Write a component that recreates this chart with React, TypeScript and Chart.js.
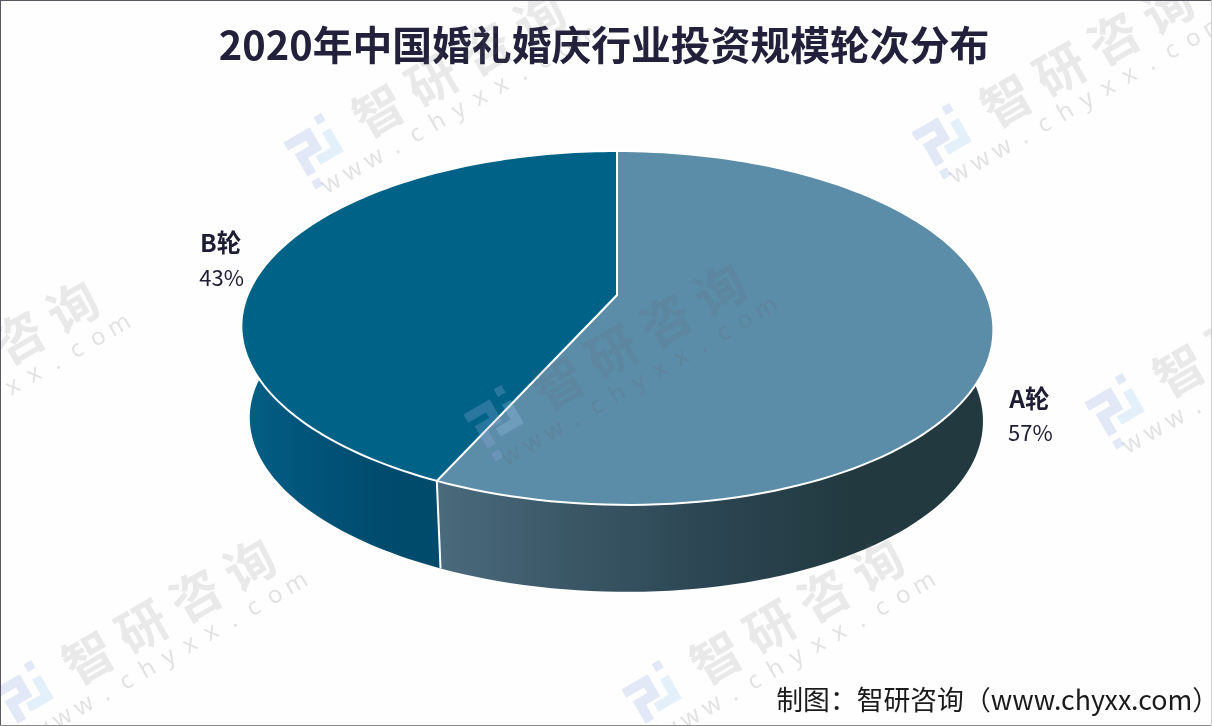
import React, { useEffect, useRef } from 'react';
import { Chart, registerables } from 'chart.js';

Chart.register(...registerables);

const titleText = '2020年中国婚礼婚庆行业投资规模轮次分布';
const sourceText = '制图：智研咨询（www.chyxx.com）';
const categories = ['A轮', 'B轮'];
const shares = [57, 43];
const topColors = ['#5b8ca8', '#006287'];

// Perspective of the disc: screen size of the rim and how fast the front grows
const rimX = 369.4;
const rimY = 170.8;
const tilt = 0.1864;
const frontLean = 11;
const discShift = 13;
const wallDepth = 92.2;
const wallShrink = 0.975;
const wallShift = -1;

// Side wall shading, left to right across each slice
const wallStops = [
  ['#4a6b7d', '#3a5665', '#2b4552', '#22393f', '#22393f'],
  ['#045f85', '#01547a', '#004c6e', '#004a6b'],
];
const wallRanges = [
  [437, 990],
  [243, 441],
];

const labelOffsets = [
  [36, 65],
  [-50, -16],
];

// Watermark stamps, centre of each logo
const stampsX = [322, 950, 502, -145, 1123, 32, 660];
const stampsY = [143, 133, 415, 432, 403, 690, 690];

const project = (cx: number, cy: number, angle: number, wall = false) => {
  const u = Math.cos(angle);
  const v = Math.sin(angle);
  const w = 1 / (1 - tilt * v);
  const s = wall ? wallShrink : 1;
  const lean = v > 0 ? frontLean * v * v : 0;
  return {
    x: cx + discShift + (wall ? wallShift : 0) + lean + s * rimX * u * w,
    y: cy + (wall ? wallDepth : 0) + s * rimY * v * w,
  };
};

const pie3d = {
  id: 'pie3d',
  beforeDatasetDraw(chart: any) {
    const ctx = chart.ctx;
    const arcs = chart.getDatasetMeta(0).data;
    const steps = 120;

    // walls first, the top covers whatever is behind
    [1, 0].forEach((i) => {
      const arc = arcs[i];
      const { x, y, startAngle, endAngle } = arc.getProps(['x', 'y', 'startAngle', 'endAngle'], true);
      const [x0, x1] = wallRanges[i];
      const grad = ctx.createLinearGradient(x0, 0, x1, 0);
      wallStops[i].forEach((c, n) => grad.addColorStop(n / (wallStops[i].length - 1), c));
      ctx.beginPath();
      for (let n = 0; n <= steps; n++) {
        const p = project(x, y, startAngle + ((endAngle - startAngle) * n) / steps);
        if (n === 0) ctx.moveTo(p.x, p.y);
        else ctx.lineTo(p.x, p.y);
      }
      for (let n = steps; n >= 0; n--) {
        const p = project(x, y, startAngle + ((endAngle - startAngle) * n) / steps, true);
        ctx.lineTo(p.x, p.y);
      }
      ctx.closePath();
      ctx.fillStyle = grad;
      ctx.fill();
    });

    // white edge where the two walls meet
    const seam = arcs[1].getProps(['x', 'y', 'startAngle'], true);
    const seamTop = project(seam.x, seam.y, seam.startAngle);
    const seamBottom = project(seam.x, seam.y, seam.startAngle, true);
    ctx.beginPath();
    ctx.moveTo(seamTop.x, seamTop.y);
    ctx.lineTo(seamBottom.x, seamBottom.y);
    ctx.strokeStyle = '#ffffff';
    ctx.lineWidth = 2;
    ctx.stroke();

    arcs.forEach((arc: any) => {
      const { x, y, startAngle, endAngle } = arc.getProps(['x', 'y', 'startAngle', 'endAngle'], true);
      ctx.beginPath();
      ctx.moveTo(x + discShift, y);
      for (let n = 0; n <= steps; n++) {
        const p = project(x, y, startAngle + ((endAngle - startAngle) * n) / steps);
        ctx.lineTo(p.x, p.y);
      }
      ctx.closePath();
      ctx.fillStyle = arc.options.backgroundColor;
      ctx.fill();
      ctx.strokeStyle = '#ffffff';
      ctx.lineWidth = 2;
      ctx.lineJoin = 'round';
      ctx.stroke();
    });
    return false;
  },
  afterDatasetsDraw(chart: any) {
    const ctx = chart.ctx;
    const arcs = chart.getDatasetMeta(0).data;
    const font = '"Noto Sans CJK SC", "Noto Sans", sans-serif';

    ctx.save();
    ctx.textAlign = 'center';
    ctx.textBaseline = 'middle';
    ctx.fillStyle = '#1f1d33';
    arcs.forEach((arc: any, i: number) => {
      const { x, y, startAngle, endAngle } = arc.getProps(['x', 'y', 'startAngle', 'endAngle'], true);
      const p = project(x, y, (startAngle + endAngle) / 2);
      const lx = p.x + labelOffsets[i][0];
      const ly = p.y + labelOffsets[i][1];
      ctx.font = `bold 24.5px ${font}`;
      ctx.fillText(categories[i], lx, ly);
      ctx.font = `22px ${font}`;
      ctx.fillText(`${shares[i]}%`, lx + 1, ly + 34);
    });
    ctx.restore();

    // watermark stamps
    stampsX.forEach((sx, i) => {
      ctx.save();
      ctx.translate(sx, stampsY[i]);
      ctx.rotate((-30 * Math.PI) / 180);

      ctx.save();
      ctx.translate(-5, 0);
      ctx.scale(0.88, 0.88);
      ctx.lineWidth = 11;
      ctx.lineJoin = 'miter';
      ctx.strokeStyle = 'rgba(150,175,225,0.27)';
      ctx.beginPath();
      ctx.moveTo(-32, -17);
      ctx.lineTo(-3, -17);
      ctx.lineTo(-3, 1);
      ctx.lineTo(-22, 1);
      ctx.lineTo(-22, 25);
      ctx.stroke();
      ctx.strokeStyle = 'rgba(160,205,235,0.27)';
      ctx.beginPath();
      ctx.moveTo(17, -10);
      ctx.lineTo(17, 15);
      ctx.lineTo(-8, 15);
      ctx.stroke();
      ctx.fillStyle = 'rgba(150,175,225,0.27)';
      ctx.fillRect(12, -30, 10, 10);
      ctx.fillRect(-27, 32, 10, 10);
      ctx.restore();

      ctx.fillStyle = 'rgba(105,105,110,0.14)';
      ctx.textAlign = 'center';
      ctx.textBaseline = 'middle';
      ctx.font = `bold 50px ${font}`;
      '智研咨询'.split('').forEach((ch, n) => ctx.fillText(ch, 65 + n * 62, 0));
      ctx.fillStyle = 'rgba(105,105,110,0.19)';
      ctx.font = `24px "Noto Sans", sans-serif`;
      'www.chyxx.com'.split('').forEach((ch, n) => ctx.fillText(ch, -12 + n * 24.5, 40));
      ctx.restore();
    });

    ctx.save();
    ctx.font = `26.8px ${font}`;
    ctx.textAlign = 'right';
    ctx.textBaseline = 'middle';
    ctx.fillStyle = '#1a1a1a';
    ctx.fillText(sourceText, 1219, 700);

    // frame of the picture
    const { width, height } = chart;
    ctx.lineWidth = 2;
    ctx.strokeStyle = '#5a5760';
    ctx.beginPath();
    ctx.moveTo(0, height);
    ctx.lineTo(0, 0);
    ctx.lineTo(width, 0);
    ctx.stroke();
    ctx.strokeStyle = '#8a8a8a';
    ctx.beginPath();
    ctx.moveTo(0, height);
    ctx.lineTo(width, height);
    ctx.stroke();
    ctx.strokeStyle = '#cfcfcf';
    ctx.beginPath();
    ctx.moveTo(width, 0);
    ctx.lineTo(width, height);
    ctx.stroke();
    ctx.restore();
  },
};

const App: React.FC = () => {
  const chartRef = useRef<HTMLCanvasElement>(null);

  useEffect(() => {
    document.body.style.margin = '0';
    if (!chartRef.current) return;
    const chart = new Chart(chartRef.current, {
      type: 'pie',
      data: {
        labels: categories,
        datasets: [{ data: shares, backgroundColor: topColors, borderWidth: 0 }],
      },
      options: {
        responsive: false,
        devicePixelRatio: 1,
        animation: false,
        layout: { padding: { left: 0, right: 4, top: 0, bottom: 224.8 } },
        plugins: {
          legend: { display: false },
          tooltip: { enabled: false },
          title: {
            display: true,
            text: titleText,
            color: '#22203a',
            font: { family: '"Noto Sans CJK SC", sans-serif', size: 39.8, weight: 'bold' },
            padding: { top: 21, bottom: 20 },
          },
        },
      },
      plugins: [pie3d],
    } as any);
    return () => chart.destroy();
  }, []);

  return (
    <div style={{ width: 1212, height: 726, background: '#fefefe' }}>
      <canvas ref={chartRef} width={1212} height={726} style={{ display: 'block' }} />
    </div>
  );
};

export default App;
